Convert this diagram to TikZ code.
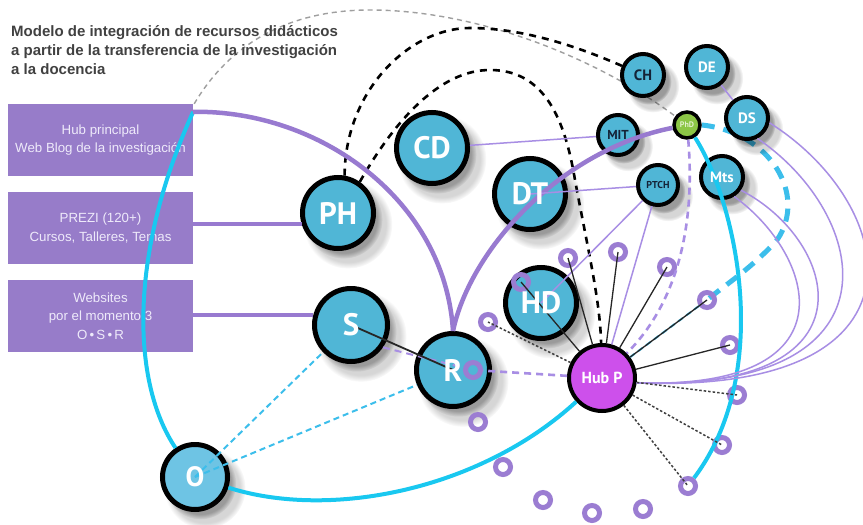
\documentclass[tikz,border=0pt]{standalone}
\usepackage{fontspec}
\setmainfont{PT Sans}
\newfontfamily\headfont{Liberation Sans}
\usetikzlibrary{shadows,calc}

\definecolor{boxc}{RGB}{151,124,201}
\definecolor{boxt}{RGB}{238,234,250}
\definecolor{purl}{RGB}{152,122,208}
\definecolor{purthin}{RGB}{168,142,228}
\definecolor{ringc}{RGB}{155,125,210}
\definecolor{cyanA}{RGB}{25,200,240}
\definecolor{cyanB}{RGB}{60,190,235}
\definecolor{cblue}{RGB}{80,182,214}
\definecolor{oblue}{RGB}{110,196,228}
\definecolor{hubc}{RGB}{205,80,235}
\definecolor{phdc}{RGB}{140,198,70}
\definecolor{titlec}{RGB}{65,65,65}
\definecolor{darkt}{RGB}{20,35,55}

\pgfdeclarelayer{bg}
\pgfdeclarelayer{over}
\pgfdeclarelayer{top}
\pgfsetlayers{bg,main,over,top}

\tikzset{
  haze/.style={
      circular drop shadow={shadow xshift=8pt, shadow yshift=-9pt,
        shadow scale=1.25, fill=black, opacity=.16},
      circular drop shadow={shadow xshift=5pt, shadow yshift=-6pt,
        shadow scale=1.1, fill=black, opacity=.28}},
  bigc/.style={circle, draw=black, line width=5pt, fill=cblue, inner sep=0pt,
      minimum size=71pt, haze},
  smallc/.style={circle, draw=black, line width=4pt, fill=cblue, inner sep=0pt,
      minimum size=42pt, haze},
  hubcirc/.style={circle, draw=black, line width=4pt, fill=hubc, inner sep=0pt,
      minimum size=66pt},
  phdcirc/.style={circle, draw=black, line width=3.5pt, fill=phdc, inner sep=0pt,
      minimum size=26pt},
  ringn/.style={circle, draw=ringc, line width=5pt, inner sep=0pt, minimum size=15pt},
  boxn/.style={rectangle, fill=boxc, text=boxt, align=center, inner sep=0pt,
      minimum width=185pt, minimum height=72pt,
      font=\headfont\fontsize{13.3}{18.5}\selectfont},
  titlet/.style={anchor=base west, inner sep=0pt, text=titlec,
      font=\headfont\bfseries\fontsize{15}{17}\selectfont},
  bigt/.style={text=white, font=\bfseries\fontsize{31}{31}\selectfont, inner sep=0pt},
  smallt/.style={font=\bfseries\fontsize{15}{15}\selectfont, inner sep=0pt},
  pthick/.style={draw=purl, line width=4.5pt},
  pthin/.style={draw=purthin, line width=1.5pt},
  pdash/.style={draw=purthin, line width=2.6pt, dash pattern=on 7pt off 5pt},
  cyansolid/.style={draw=cyanA, line width=4pt},
  cyanthick/.style={draw=cyanB, line width=5pt, dash pattern=on 13pt off 9pt},
  cyanthin/.style={draw=cyanB, line width=2pt, dash pattern=on 6pt off 4pt},
  grayd/.style={draw=gray!75, line width=1.4pt, dash pattern=on 5pt off 4pt},
  blackd/.style={draw=black, line width=2.6pt, dash pattern=on 7pt off 6pt},
  blk/.style={draw=black!85, line width=1.3pt},
  dotd/.style={draw=black!75, line width=1.5pt, dash pattern=on 2.5pt off 2pt},
}

\begin{document}
\begin{tikzpicture}[x=1pt, y=-1pt]
\begin{pgfonlayer}{bg}
  \fill[white] (0,0) rectangle (863,525);
\end{pgfonlayer}
\useasboundingbox (0,0) rectangle (863,525);

% title
\node[titlet] (t1) at (11,36) {Modelo de integración de recursos didácticos};
\node[titlet] (t2) at (11,55) {a partir de la transferencia de la investigación};
\node[titlet] (t3) at (11,74) {a la docencia};

% resource boxes
\node[boxn] (box1) at (100.5,140) {Hub principal\\Web Blog de la investigación};
\node[boxn] (box2) at (100.5,228) {PREZI (120+)\\Cursos, Talleres, Temas};
\node[boxn] (box3) at (100.5,316) {Websites\\por el momento 3\\O\,•\,S\,•\,R};

% main circles
\node[bigc] (PH) at (338,213) {};
\node[bigc] (CD) at (432,148) {};
\node[bigc] (DT) at (530,194) {};
\node[bigc] (HD) at (541,303) {};
\node[bigc, minimum size=73pt] (S) at (351,325) {};
\node[bigc, minimum size=73pt] (R) at (453,370) {};
\node[bigc, minimum size=65pt, fill=oblue] (O) at (195,477) {};
\node[hubcirc] (HubP) at (602,378) {};
\node[smallc] (CH) at (643,75) {};
\node[smallc] (DE) at (707,67) {};
\node[smallc] (DS) at (747,118) {};
\node[smallc, minimum size=40pt] (MIT) at (618,135) {};
\node[smallc, minimum size=40pt] (PTCH) at (658,185) {};
\node[smallc] (Mts) at (722,177) {};
\node[phdcirc] (PhD) at (687,125) {};

% connectors running behind the circles
\begin{pgfonlayer}{bg}
  \draw[grayd] ([xshift=1pt]box1.north east) .. controls (235,35) and (300,10) .. (370,10)
        .. controls (480,10) and (600,60) .. (PhD);
  \draw[blackd] (PH.80) .. controls (345,90) and (410,28) .. (470,28)
        .. controls (530,28) and (590,52) .. (CH);
  \draw[blackd] (PH.55) .. controls (395,120) and (440,70) .. (490,70)
        .. controls (545,70) and (565,120) .. (575,180)
        .. controls (588,250) and (600,300) .. (HubP);
  \draw[cyanthick] (PhD.east) .. controls (770,132) and (808,195) .. (777,240)
        .. controls (752,268) and (725,285) .. (707,300);
\end{pgfonlayer}

\begin{pgfonlayer}{over}
  % small rings
  \node[ringn] (r1) at (568,258) {};
  \node[ringn] (r2) at (618,252) {};
  \node[ringn] (r3) at (667,267) {};
  \node[ringn] (r4) at (707,300) {};
  \node[ringn] (r5) at (730,345) {};
  \node[ringn] (r6) at (737,395) {};
  \node[ringn] (r7) at (722,445) {};
  \node[ringn] (r8) at (688,486) {};
  \node[ringn] (r9) at (643,509) {};
  \node[ringn] (r10) at (592,513) {};
  \node[ringn] (r11) at (543,500) {};
  \node[ringn] (r12) at (503,467) {};
  \node[ringn] (r13) at (478,422) {};
  \node[ringn] (r14) at (488,322) {};
  \node[ringn] (rHD) at (521,282) {};
  \node[ringn] (rR) at (473,370) {};

  % cyan loops
  \draw[cyansolid] ([yshift=-8pt]box1.north east) .. controls (130,250) and (130,380) .. (O);
  \draw[cyansolid] (O) .. controls (330,520) and (480,490) .. (HubP);
  \draw[cyansolid] (PhD) .. controls (735,200) and (775,370) .. (r8);
  \draw[cyanthin] (r4) -- (HubP);
  \draw[cyanthin] (O.center) -- (S);
  \draw[cyanthin] (O.center) -- (R);

  % thick purple links
  \draw[pthick] ([yshift=-8pt]box1.north east) .. controls (320,110) and (445,200) .. (R.north);
  \draw[pthick] (box2.east |- PH.197) -- (PH.197);
  \draw[pthick] (box3.east |- S.165) -- (S.165);
  \draw[pthick] (R.north) .. controls (470,250) and (560,150) .. (PhD);

  % thin purple links
  \draw[pthin] (CD) -- (MIT);
  \draw[pthin] (DT.center) -- (PTCH);
  \draw[pthin] (PTCH) -- (HD.center);
  \draw[pthin] (PTCH) -- (HubP);
  \draw[pthin] (DE) -- (DS);
  \draw[pthin] (DS.-12) .. controls (900,205) and (940,395) .. (HubP.-8);
  \draw[pthin] (DS.-63) .. controls (870,215) and (908,392) .. (HubP.-8);
  \draw[pthin] (Mts.-35) .. controls (838,240) and (882,392) .. (HubP.-8);
  \draw[pthin] (Mts.-58) .. controls (815,255) and (857,390) .. (HubP.-8);
  \draw[pdash] (PhD) .. controls (695,220) and (680,300) .. (HubP);
  \draw[pdash] (HubP) -- (rR);
  \draw[pdash, line width=2pt] (S.-35) -- (rR);

  % black links from Hub P
  \foreach \r in {r1,r2,r3,r4,r5,rHD}
    \draw[blk] (HubP) -- (\r.center);
  \foreach \r in {r14,r6,r7,r8}
    \draw[dotd] (HubP) -- (\r.center);
  \draw[blk, line width=1.8pt] (S.center) -- (R.center);
\end{pgfonlayer}

% circle labels
\begin{pgfonlayer}{top}
  \node[bigt] (lPH) at (PH) {PH};
  \node[bigt] (lCD) at (CD) {CD};
  \node[bigt] (lDT) at (DT) {DT};
  \node[bigt] (lHD) at (HD) {HD};
  \node[bigt] (lS) at (S) {S};
  \node[bigt] (lR) at (R) {R};
  \node[bigt, font=\bfseries\fontsize{28}{28}\selectfont] (lO) at (O) {O};
  \node[text=white, font=\bfseries\fontsize{16}{16}\selectfont, inner sep=0pt] (lHub) at (HubP) {Hub P};
  \node[smallt, text=darkt] (lCH) at (CH) {CH};
  \node[smallt, text=white] (lDE) at (DE) {DE};
  \node[smallt, text=white] (lDS) at (DS) {DS};
  \node[smallt, text=darkt, font=\bfseries\fontsize{13}{13}\selectfont] (lMIT) at (MIT) {MIT};
  \node[smallt, text=darkt, font=\bfseries\fontsize{10}{10}\selectfont] (lPTCH) at (PTCH) {PTCH};
  \node[smallt, text=white] (lMts) at (Mts) {Mts};
  \node[text={rgb,255:red,225;green,240;blue,205}, font=\bfseries\fontsize{8}{8}\selectfont, inner sep=0pt] (lPhD) at (PhD) {PhD};
\end{pgfonlayer}
\end{tikzpicture}
\end{document}
